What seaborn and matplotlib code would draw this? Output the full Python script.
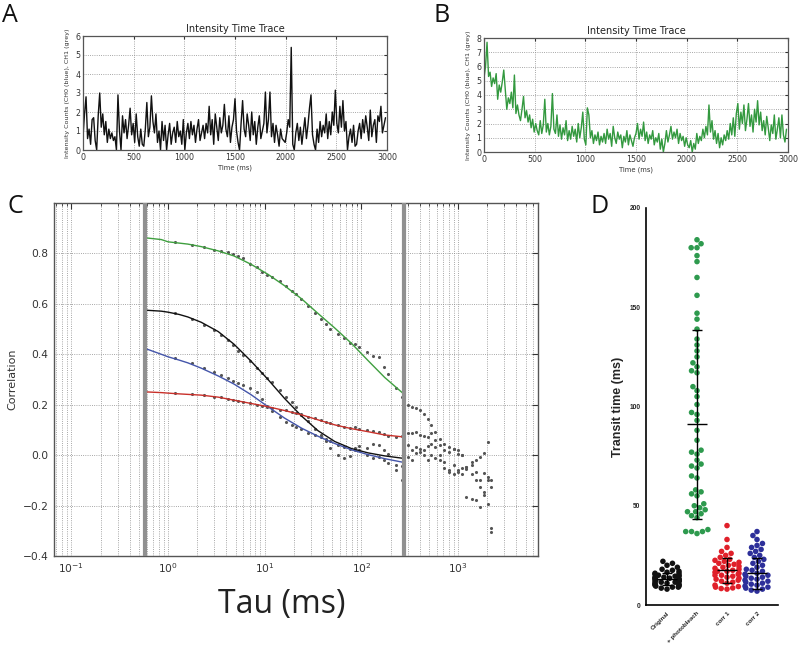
import numpy as np
import pandas as pd
import matplotlib
matplotlib.use("Agg")
import matplotlib.pyplot as plt
import seaborn as sns
from matplotlib.ticker import LogLocator, NullFormatter

# ---------------- data: panel A / B (intensity traces, 15 ms bins) ----------------
trace_bin_ms = 15
trace_a = [
    0.7, 1.9, 2.8, 0.6, 1.1, 0.3, 1.6, 1.7, 0.5, 0.0, 1.8, 3.0, 1.2, 1.9, 0.8, 1.5, 0.4, 1.1, 0.6, 0.9,
    0.5, 0.7, 0.0, 2.9, 1.0, 0.0, 1.8, 0.9, 1.6, 0.6, 1.3, 2.2, 0.8, 1.4, 0.4, 1.9, 0.7, 0.2, 1.1, 0.3,
    0.2, 1.1, 2.5, 0.7, 1.2, 2.85, 1.5, 0.9, 1.9, 0.4, 1.0, 0.0, 1.5, 0.5, 1.3, 0.0, 0.8, 1.4, 0.3, 0.9,
    1.2, 0.4, 1.5, 0.7, 1.0, 0.3, 1.6, 0.0, 0.9, 1.4, 0.6, 1.5, 0.8, 1.3, 0.4, 1.1, 1.6, 0.5, 0.9, 1.3,
    0.6, 1.4, 0.9, 2.3, 0.8, 1.6, 0.3, 1.9, 1.2, 0.5, 1.7, 0.9, 1.3, 2.4, 1.1, 0.7, 1.8, 0.4, 1.2, 1.6,
    2.7, 1.0, 0.4, 0.0, 1.4, 2.6, 1.1, 0.7, 1.9, 1.3, 0.5, 2.0, 0.8, 1.5, 0.3, 1.2, 1.8, 0.6, 1.0, 1.4,
    3.05, 0.9, 1.6, 3.05, 0.7, 1.4, 0.4, 1.3, 0.8, 0.2, 1.1, 0.6, 0.5, 0.4, 0.9, 1.6, 1.2, 5.4, 0.3, 0.0,
    0.9, 1.4, 0.5, 1.2, 0.3, 1.0, 1.7, 0.6, 1.3, 2.2, 2.9, 0.8, 0.3, 0.0, 1.1, 0.4, 1.5, 0.7, 1.3, 0.9,
    1.9, 0.6, 1.5, 0.8, 2.0, 1.3, 3.15, 1.4, 0.9, 2.3, 1.2, 2.6, 1.0, 1.5, 0.0, 0.7, 1.1, 0.4, 1.3, 0.2,
    0.3, 1.0, 1.4, 0.6, 1.6, 0.9, 1.8, 1.2, 0.5, 2.1, 0.7, 1.3, 1.6, 0.4, 1.8, 1.5, 2.3, 0.9, 1.3, 1.7,
]
trace_b = [
    5.2, 6.0, 7.7, 5.3, 5.6, 4.6, 5.2, 4.8, 5.5, 3.7, 4.7, 4.2, 4.9, 5.75, 4.4, 3.0, 3.8, 3.4, 4.2, 3.1,
    5.4, 2.7, 3.3, 2.6, 2.2, 3.0, 3.9, 2.4, 2.9, 2.1, 2.6, 1.7, 2.3, 1.4, 2.0, 1.5, 1.2, 2.2, 1.3, 1.9,
    3.7, 1.4, 2.0, 1.2, 1.8, 4.1, 1.6, 1.3, 2.6, 1.1, 1.9, 0.9, 1.7, 1.2, 2.2, 0.8, 1.5, 0.9, 1.8, 1.1,
    1.6, 0.7, 2.0, 1.0, 1.7, 2.8, 0.9, 0.5, 3.1, 2.6, 1.0, 1.5, 0.6, 1.2, 0.8, 1.4, 0.5, 1.1, 0.7, 1.3,
    0.6, 1.6, 0.9, 1.3, 0.4, 1.8, 1.0, 0.6, 1.4, 0.9, 1.2, 0.3, 1.1, 0.7, 1.5, 0.5, 1.2, 0.8, 0.4, 1.0,
    1.3, 2.0, 0.9, 1.6, 1.1, 2.1, 0.8, 1.4, 0.6, 1.2, 0.9, 1.5, 0.5, 1.0, 0.7, 1.3, 0.2, 0.9, 0.0, 0.6,
    1.5, 0.7, 1.2, 1.8, 0.9, 1.4, 1.0, 1.6, 0.6, 1.3, 0.8, 1.1, 0.4, 1.0, 0.5, 0.3, 0.8, 0.0, 0.6, 0.2,
    1.3, 0.6, 1.1, 0.8, 1.6, 1.0, 1.8, 1.2, 3.3, 1.4, 2.2, 0.9, 1.5, 0.6, 1.3, 0.3, 1.0, 0.5, 1.2, 0.8,
    1.5, 0.9, 2.0, 1.2, 2.4, 1.1, 2.7, 3.4, 1.6, 2.8, 2.0, 3.3, 1.5, 2.3, 3.4, 1.8, 2.6, 1.4, 3.0, 2.1,
    3.6, 1.9, 2.8, 1.5, 2.2, 1.2, 2.5, 1.7, 0.8, 1.9, 1.3, 2.6, 0.9, 1.6, 2.4, 1.0, 2.6, 1.2, 0.7, 1.6,
]

# ---------------- data: panel C (correlation curves) ----------------
series_names = ["green", "black", "blue", "red"]
window_tau = [0.58, 275]

fit_tau = [0.58, 0.85, 1.0, 1.3, 1.6, 2.2, 3.3, 4.8, 7.2, 10.8, 16, 24, 35.5, 53, 79, 117, 174, 275]
fit_green = [0.862, 0.855, 0.846, 0.841, 0.837, 0.827, 0.81, 0.79, 0.757, 0.717, 0.672, 0.62, 0.562, 0.504,
             0.443, 0.375, 0.308, 0.242]
fit_black = [0.575, 0.571, 0.567, 0.558, 0.548, 0.527, 0.49, 0.44, 0.373, 0.30, 0.225, 0.155, 0.097, 0.054,
             0.026, 0.009, -0.003, -0.013]
fit_blue = [0.423, 0.40, 0.39, 0.377, 0.366, 0.345, 0.314, 0.282, 0.24, 0.192, 0.147, 0.107, 0.075, 0.046,
            0.021, 0.002, -0.014, -0.029]
fit_red = [0.251, 0.248, 0.246, 0.243, 0.241, 0.238, 0.23, 0.218, 0.205, 0.192, 0.177, 0.16, 0.14, 0.12,
           0.105, 0.093, 0.08, 0.072]

pts_tau = [1.18, 1.77, 2.36, 2.95, 3.54, 4.13, 4.72, 5.31, 5.9, 7.08, 8.26, 9.44, 10.6, 11.8, 14.2, 16.5,
           18.9, 21.2, 23.6, 28.3, 33.0, 37.8, 42.5, 47.2, 56.6, 66.1, 75.5, 85.0, 94.4, 113, 132, 151, 170,
           189, 226, 264,
           305, 335, 365, 400, 440, 490, 530, 570, 650, 720, 800, 900, 1000, 1100, 1220, 1380, 1540, 1700,
           1850, 2050, 2200]
pts_green = [0.845, 0.832, 0.826, 0.815, 0.81, 0.805, 0.797, 0.79, 0.78, 0.76, 0.745, 0.728, 0.716, 0.705,
             0.69, 0.67, 0.652, 0.64, 0.62, 0.59, 0.565, 0.54, 0.52, 0.5, 0.482, 0.465, 0.445, 0.44, 0.43,
             0.41, 0.392, 0.388, 0.35, 0.32, 0.265, 0.232,
             0.198, 0.19, 0.185, 0.179, 0.165, 0.145, 0.12, 0.093, 0.066, 0.046, 0.033, 0.026, 0.02, 0.0,
             -0.046, -0.04, -0.066, -0.1, -0.07, -0.086, -0.126]
pts_black = [0.562, 0.54, 0.515, 0.495, 0.475, 0.455, 0.435, 0.415, 0.398, 0.372, 0.345, 0.325, 0.305, 0.29,
             0.26, 0.232, 0.21, 0.19, 0.165, 0.135, 0.105, 0.08, 0.055, 0.03, 0.0, -0.01, -0.005, 0.02, 0.035,
             0.03, 0.045, 0.04, 0.02, 0.005, -0.06, -0.1,
             0.04, 0.02, 0.033, 0.013, 0.0, -0.02, 0.0, -0.01, -0.02, -0.05, -0.066, -0.073, -0.06, -0.073,
             -0.165, -0.172, -0.178, -0.205, -0.159, -0.192, -0.304]
pts_blue = [0.385, 0.365, 0.345, 0.33, 0.318, 0.306, 0.296, 0.288, 0.28, 0.268, 0.25, 0.222, 0.195, 0.175,
            0.15, 0.133, 0.12, 0.112, 0.104, 0.088, 0.08, 0.07, 0.064, 0.055, 0.04, 0.032, 0.025, 0.03, 0.02,
            0.0, -0.01, -0.008, -0.02, -0.03, -0.04, -0.045,
            -0.007, -0.02, 0.01, 0.026, 0.02, 0.035, 0.046, 0.033, 0.0, -0.026, -0.06, -0.04, -0.066, -0.05,
            -0.053, -0.073, -0.1, -0.126, -0.146, -0.1, -0.29]
pts_red = [0.246, 0.241, 0.238, 0.232, 0.229, 0.224, 0.22, 0.214, 0.212, 0.205, 0.2, 0.195, 0.19, 0.187,
           0.18, 0.178, 0.17, 0.168, 0.16, 0.152, 0.148, 0.14, 0.133, 0.128, 0.12, 0.112, 0.108, 0.11, 0.105,
           0.098, 0.096, 0.09, 0.082, 0.076, 0.07, 0.075,
           0.086, 0.089, 0.09, 0.079, 0.075, 0.07, 0.086, 0.06, 0.04, 0.02, 0.013, 0.026, 0.005, 0.0,
           -0.046, -0.026, -0.02, -0.007, 0.01, 0.053, -0.1]

# ---------------- data: panel D (transit times) ----------------
groups_d = ["Original", "+ photobleach", "corr 1", "corr 2"]
vals_original = [8.0, 8.5, 9.0, 9.0, 9.5, 9.5, 10.0, 10.0, 10.5, 10.5, 11.0, 11.0, 11.5, 11.5, 12.0, 12.0,
                 12.0, 12.5, 12.5, 13.0, 13.0, 13.0, 13.5, 13.5, 14.0, 14.0, 14.5, 14.5, 15.0, 15.0, 15.5,
                 16.0, 16.0, 16.5, 17.0, 17.5, 18.0, 19.0, 20.0, 21.0, 22.0]
vals_photobleach = [184, 182, 180, 180, 176, 173, 165, 156, 147, 144, 139, 134, 131, 128, 125, 122, 120, 118,
                    117, 110, 108, 105, 101, 97, 96, 93, 88, 83, 78, 77, 76, 73, 71, 70, 69, 65, 64, 58, 57,
                    56, 55, 51, 50, 49, 48, 47, 47, 46, 45, 44, 38, 37, 37, 37, 36]
vals_corr1 = [8.0, 8.3, 8.6, 9.0, 9.3, 10.0, 11.0, 11.5, 12.0, 12.5, 13.0, 13.5, 14.0, 14.5, 15.0, 15.0,
              15.5, 16.0, 16.5, 17.0, 17.0, 17.5, 18.0, 18.5, 19.0, 19.5, 20.0, 20.5, 21.0, 21.5, 22.0, 22.5,
              23.0, 24.0, 25.0, 26.0, 27.0, 29.0, 33.0, 40.0]
vals_corr2 = [7.0, 7.5, 8.0, 8.5, 9.0, 9.5, 10.0, 10.5, 11.0, 11.5, 12.0, 12.5, 13.0, 13.5, 14.0, 14.5, 15.0,
              15.5, 16.0, 17.0, 17.5, 18.0, 19.0, 20.0, 21.0, 22.0, 23.0, 24.0, 25.0, 26.0, 27.0, 28.0, 29.0,
              30.0, 31.0, 33.0, 35.0, 37.0]
means_d = [13.0, 91.0, 17.5, 16.0]
sds_d = [3.0, 47.6, 6.3, 7.8]
colors_d = ["#111111", "#2e9a4e", "#e0202a", "#2d2f9a"]

# ---------------- style ----------------
sns.set_style("white")
plt.rcParams["font.family"] = ["DejaVu Sans"]
plt.rcParams["axes.unicode_minus"] = True

W, H = 799, 646
fig = plt.figure(figsize=(W / 100, H / 100), dpi=100)


def fr(l, t, r, b):
    return [l / W, 1 - b / H, (r - l) / W, (b - t) / H]


spine_col = "#555555"
grid_kw = dict(ls=":", color="#8a8a8a", lw=0.6)


def trace_panel(rect, values, color, ymax):
    ax = fig.add_axes(rect)
    df = pd.DataFrame({"t": np.arange(len(values)) * trace_bin_ms, "v": values})
    sns.lineplot(data=df, x="t", y="v", color=color, lw=1.0, ax=ax)
    ax.set_xlim(0, 3000)
    ax.set_ylim(0, ymax)
    ax.set_xticks(range(0, 3001, 500))
    ax.set_yticks(range(0, ymax + 1))
    ax.grid(True, **grid_kw)
    for s in ax.spines.values():
        s.set_color(spine_col)
        s.set_linewidth(0.9)
    ax.tick_params(direction="in", length=2.5, labelsize=5.7, colors="#333333", pad=2,
                   top=True, right=True)
    ax.set_title("Intensity Time Trace", fontsize=7, pad=3, color="#222222")
    ax.set_xlabel("Time (ms)", fontsize=4.9, labelpad=2, color="#333333")
    ax.set_ylabel("Intensity Counts (CH0 (blue), CH1 (grey)", fontsize=4.6, color="#333333")
    ax.yaxis.set_label_coords(-0.042, 0.5)
    return ax


axA = trace_panel(fr(83, 36, 387, 150), trace_a, "#111111", 6)
axB = trace_panel(fr(484, 38, 788, 152), trace_b, "#33993f", 8)

# ---------------- panel C ----------------
axC = fig.add_axes(fr(54, 203, 538, 556))
axC.set_xscale("log")
pts_df = pd.DataFrame({
    "tau": pts_tau * 4,
    "g": pts_green + pts_black + pts_blue + pts_red,
})
sns.scatterplot(data=pts_df, x="tau", y="g", color="#555555", s=5, linewidth=0, ax=axC, zorder=3)
fit_colors = {"green": "#3f9f3f", "black": "#111111", "blue": "#4455aa", "red": "#c8302a"}
for name, vals in zip(series_names, [fit_green, fit_black, fit_blue, fit_red]):
    sns.lineplot(x=fit_tau, y=vals, color=fit_colors[name], lw=1.0, ax=axC, zorder=4)
for t in window_tau:
    axC.axvline(t, color="#909090", lw=3.0, zorder=5)
axC.set_xlim(0.066, 6700)
axC.set_ylim(-0.4, 1.0)
axC.set_yticks([-0.4, -0.2, 0.0, 0.2, 0.4, 0.6, 0.8])
axC.xaxis.set_major_locator(LogLocator(base=10, numticks=10))
axC.xaxis.set_minor_locator(LogLocator(base=10, subs=np.arange(2, 10), numticks=20))
axC.xaxis.set_minor_formatter(NullFormatter())
axC.grid(True, which="major", axis="both", **grid_kw)
axC.grid(True, which="minor", axis="x", **grid_kw)
for s in axC.spines.values():
    s.set_color(spine_col)
    s.set_linewidth(1.0)
axC.tick_params(which="both", direction="in", labelsize=7.7, colors="#333333", top=True, right=True)
axC.tick_params(which="major", length=4, pad=4)
axC.tick_params(which="minor", length=2)
axC.set_xlabel("")
axC.set_ylabel("Correlation", fontsize=8, color="#333333")
axC.yaxis.set_label_coords(-0.076, 0.5)
fig.text(282 / W, 1 - 604 / H, "Tau (ms)", ha="center", va="center", fontsize=23,
         family=["Open Sans", "DejaVu Sans"], color="#222222")

# ---------------- panel D ----------------
axD = fig.add_axes(fr(646, 208, 778, 605))
d_df = pd.DataFrame({
    "group": [groups_d[0]] * len(vals_original) + [groups_d[1]] * len(vals_photobleach)
             + [groups_d[2]] * len(vals_corr1) + [groups_d[3]] * len(vals_corr2),
    "value": vals_original + vals_photobleach + vals_corr1 + vals_corr2,
})
sns.swarmplot(data=d_df, x="group", y="value", hue="group", order=groups_d, hue_order=groups_d,
              palette=colors_d, size=4.0, linewidth=0, legend=False, ax=axD, zorder=2)
for i, (m, s) in enumerate(zip(means_d, sds_d)):
    axD.hlines(m, i - 0.33, i + 0.33, color="black", lw=1.0, zorder=4)
    axD.vlines(i, m - s, m + s, color="black", lw=1.0, zorder=4)
    axD.hlines([m - s, m + s], i - 0.17, i + 0.17, color="black", lw=1.0, zorder=4)
axD.set_xlim(-0.7, 3.7)
axD.set_ylim(0, 200)
axD.set_yticks([0, 50, 100, 150, 200])
sns.despine(ax=axD)
for s in ["left", "bottom"]:
    axD.spines[s].set_color("black")
    axD.spines[s].set_linewidth(1.2)
axD.tick_params(axis="y", direction="out", length=3, width=1, labelsize=4.8, pad=1)
axD.tick_params(axis="x", direction="out", length=3, width=1, labelsize=4.5, pad=1)
for lab in axD.get_yticklabels():
    lab.set_fontweight("bold")
    lab.set_family(["Liberation Sans", "DejaVu Sans"])
axD.set_xticks(range(4))
axD.set_xticklabels(groups_d, rotation=45, ha="right", rotation_mode="anchor",
                    fontweight="bold", family=["Liberation Sans", "DejaVu Sans"], fontsize=4.5)
axD.set_xlabel("")
axD.set_ylabel("Transit time (ms)", fontsize=9, fontweight="bold", family=["Liberation Sans", "DejaVu Sans"])
axD.yaxis.set_label_coords(-0.17, 0.5)

# ---------------- panel letters ----------------
for lbl, x, y in [("A", 10, 15), ("B", 442, 15), ("C", 15, 207), ("D", 600, 207)]:
    fig.text(x / W, 1 - y / H, lbl, ha="center", va="center", fontsize=18,
             family=["Open Sans", "DejaVu Sans"], color="#111111")

fig.savefig("out.png", dpi=100)
